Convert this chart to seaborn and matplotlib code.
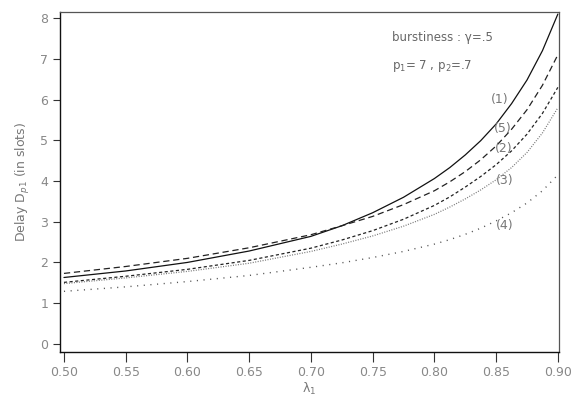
import numpy as np
import pandas as pd
import matplotlib
matplotlib.use("Agg")
import matplotlib.pyplot as plt
import seaborn as sns

# DATOS
lam = [0.50, 0.55, 0.60, 0.65, 0.70, 0.725, 0.75, 0.775, 0.80, 0.8125,
       0.825, 0.8375, 0.85, 0.8625, 0.875, 0.8875, 0.90]
curva1 = [1.63, 1.79, 2.00, 2.28, 2.64, 2.90, 3.22, 3.60, 4.06, 4.33,
          4.64, 4.99, 5.40, 5.90, 6.48, 7.20, 8.10]
curva5 = [1.73, 1.90, 2.10, 2.36, 2.68, 2.90, 3.13, 3.42, 3.76, 3.98,
          4.23, 4.52, 4.86, 5.27, 5.75, 6.35, 7.10]
curva2 = [1.51, 1.66, 1.83, 2.05, 2.35, 2.55, 2.78, 3.06, 3.40, 3.61,
          3.85, 4.11, 4.40, 4.74, 5.15, 5.66, 6.30]
curva3 = [1.48, 1.62, 1.78, 1.98, 2.27, 2.45, 2.65, 2.89, 3.18, 3.36,
          3.56, 3.78, 4.03, 4.33, 4.70, 5.18, 5.80]
curva4 = [1.29, 1.40, 1.53, 1.68, 1.88, 1.99, 2.12, 2.27, 2.45, 2.56,
          2.69, 2.84, 3.02, 3.22, 3.46, 3.76, 4.15]

etiquetas = ["(1)", "(5)", "(2)", "(3)", "(4)"]
xticks = [0.50, 0.55, 0.60, 0.65, 0.70, 0.75, 0.80, 0.85, 0.90]
yticks = [0, 1, 2, 3, 4, 5, 6, 7, 8]

df = pd.DataFrame({"lam": lam * 5,
                   "delay": curva1 + curva5 + curva2 + curva3 + curva4,
                   "curva": np.repeat(etiquetas, len(lam))})

sns.set_style("ticks")
plt.rcParams["font.family"] = ["DejaVu Sans"]

fig = plt.figure(figsize=(5.77, 4), dpi=100)
ax = fig.add_axes([0.104, 0.12, 0.865, 0.85])

estilos = {"(1)": ("-", "#111111", 0.9),
           "(5)": ((0, (5, 3)), "#222222", 0.9),
           "(2)": ((0, (2.5, 2)), "#222222", 0.9),
           "(3)": ((0, (0.8, 1.2)), "#777777", 0.9),
           "(4)": ((0, (0.8, 4)), "#555555", 1.0)}

for c in etiquetas:
    ls, col, lw = estilos[c]
    sns.lineplot(ax=ax, data=df[df["curva"] == c], x="lam", y="delay",
                 color=col, linestyle=ls, linewidth=lw, legend=False)

# etiquetas de curvas
pos_lab = {"(1)": (0.853, 6.0), "(5)": (0.855, 5.3), "(2)": (0.856, 4.8),
           "(3)": (0.857, 4.0), "(4)": (0.857, 2.9)}
for c in etiquetas:
    ax.text(pos_lab[c][0], pos_lab[c][1], c, fontsize=9, color="#777777",
            ha="center", va="center")

ax.text(0.766, 7.45, "burstiness : \u03b3=.5", fontsize=8.5, color="#666666")
ax.text(0.766, 6.75, "p$_1$= 7 , p$_2$=.7", fontsize=8.5, color="#666666")

ax.set_xlim(0.4968, 0.901)
ax.set_ylim(-0.2, 8.15)
ax.set_xticks(xticks)
ax.set_xticklabels([f"{v:.2f}" for v in xticks])
ax.set_yticks(yticks)
ax.tick_params(axis="both", labelsize=9, labelcolor="#888888", color="#333333",
               direction="out", length=5, width=0.8)
ax.tick_params(axis="x", length=7, pad=3)
ax.set_xlabel("\u03bb$_1$", fontsize=9, color="#777777")
ax.xaxis.set_label_coords(0.5, -0.085)
ax.set_ylabel("Delay D$_{p1}$ (in slots)", fontsize=9, color="#777777", labelpad=6)

for s in ["left", "bottom"]:
    ax.spines[s].set_color("#111111")
    ax.spines[s].set_linewidth(1.0)
for s in ["top", "right"]:
    ax.spines[s].set_color("#555555")
    ax.spines[s].set_linewidth(0.9)

fig.set_facecolor("white")
fig.savefig("out.png", dpi=100)
